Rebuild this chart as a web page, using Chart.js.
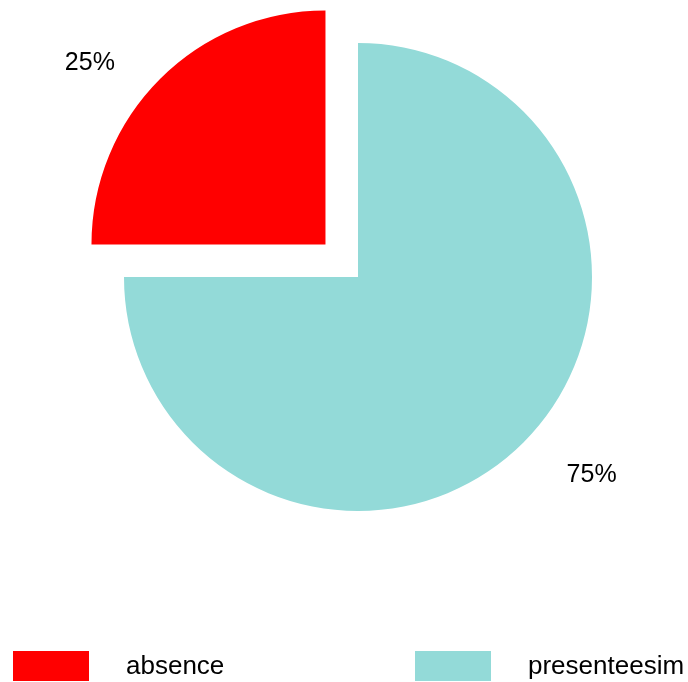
<!DOCTYPE html>
<html>
<head>
<meta charset="utf-8">
<script src="https://cdn.jsdelivr.net/npm/chart.js@4"></script>
<style>
  body { margin: 0; background: #fff; }
  #wrap { position: relative; width: 688px; height: 682px; }
  #legend { position: absolute; left: 13px; top: 650px; display: flex; font-family: "Liberation Sans", Arial, sans-serif; font-size: 26px; color: #000; }
  .item { display: flex; align-items: center; width: 402px; }
  .box { width: 76px; height: 30px; margin-right: 37px; }
</style>
</head>
<body>
<div id="wrap">
  <canvas id="pie" width="688" height="682"></canvas>
  <div id="legend"></div>
</div>
<script>
// datos
const categories = ['absence', 'presenteesim'];
const values = [25, 75];
const colors = ['#ff0000', '#93dad8'];
const pctLabels = ['25%', '75%'];

// etiquetas de porcentaje fuera del pastel
const pctPlugin = {
    id: 'pctLabels',
    afterDatasetsDraw(chart) {
        const ctx = chart.ctx;
        const arcs = chart.getDatasetMeta(0).data;
        ctx.save();
        ctx.font = '25px "Liberation Sans", Arial, sans-serif';
        ctx.fillStyle = '#000';
        ctx.textAlign = 'center';
        ctx.textBaseline = 'alphabetic';
        arcs.forEach(function(arc, i) {
            const mid = (arc.startAngle + arc.endAngle) / 2;
            const off = (arc.options.offset || 0) / 4;
            const vx = arc.x + Math.cos(mid) * off;
            const vy = arc.y + Math.sin(mid) * off;
            const a = mid - 6 * Math.PI / 180;
            const d = arc.outerRadius * 1.29;
            // centro visual de los digitos un poco mas abajo
            ctx.fillText(pctLabels[i], vx + Math.cos(a) * d - 1, vy + Math.sin(a) * d + 15);
        });
        ctx.restore();
    }
};

const ctx = document.getElementById('pie').getContext('2d');
new Chart(ctx, {
    type: 'pie',
    data: {
        labels: categories,
        datasets: [{
            data: values,
            backgroundColor: colors,
            borderWidth: 0,
            offset: [184, 0],
            hoverOffset: 0
        }]
    },
    options: {
        responsive: false,
        animation: false,
        rotation: -90,
        radius: 234,
        layout: { padding: { left: 28, bottom: 128 } },
        plugins: {
            legend: { display: false },
            tooltip: { enabled: false }
        }
    },
    plugins: [pctPlugin]
});

// leyenda
const legend = document.getElementById('legend');
categories.forEach(function(name, i) {
    const item = document.createElement('div');
    item.className = 'item';
    item.innerHTML = '<div class="box" style="background:' + colors[i] + '"></div><span>' + name + '</span>';
    legend.appendChild(item);
});
</script>
</body>
</html>
